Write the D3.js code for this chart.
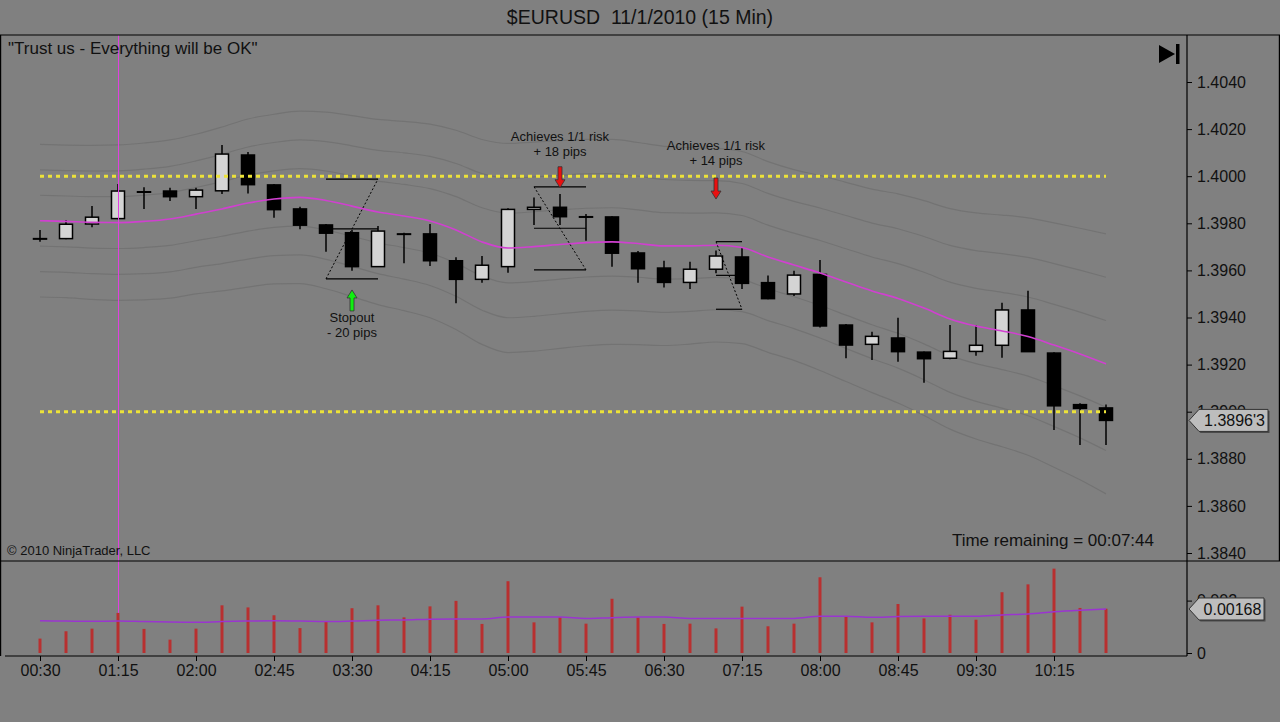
<!DOCTYPE html>
<html><head><meta charset="utf-8">
<script src="https://cdn.jsdelivr.net/npm/d3@7"></script>
<style>
html,body{margin:0;padding:0;background:#808080;}
svg{display:block;font-family:"Liberation Sans",Arial,sans-serif;}
text{white-space:pre;}
</style></head><body>
<svg id="c" width="1280" height="722"></svg>
<script>
// ---------- DATA ----------
const times = ["00:30","00:45","01:00","01:15","01:30","01:45","02:00","02:15","02:30","02:45",
  "03:00","03:15","03:30","03:45","04:00","04:15","04:30","04:45","05:00","05:15",
  "05:30","05:45","06:00","06:15","06:30","06:45","07:00","07:15","07:30","07:45",
  "08:00","08:15","08:30","08:45","09:00","09:15","09:30","09:45","10:00","10:15",
  "10:30","10:45"];
const opens  = [1.39735,1.39735,1.39797,1.39820,1.39934,1.39937,1.39913,1.39938,1.40090,1.39963,
  1.39861,1.39793,1.39760,1.39616,1.39755,1.39755,1.39641,1.39562,1.39616,1.39859,
  1.39868,1.39828,1.39827,1.39674,1.39610,1.39549,1.39605,1.39657,1.39548,1.39500,
  1.39583,1.39368,1.39286,1.39313,1.39253,1.39227,1.39256,1.39282,1.39432,1.39249,
  1.39030,1.39016];
const highs  = [1.39772,1.39814,1.39873,1.39967,1.39953,1.39951,1.39951,1.40132,1.40103,1.39967,
  1.39870,1.39797,1.39772,1.39789,1.39760,1.39797,1.39656,1.39661,1.39864,1.39910,
  1.39924,1.39839,1.39830,1.39682,1.39641,1.39637,1.39684,1.39698,1.39578,1.39599,
  1.39644,1.39372,1.39340,1.39399,1.39256,1.39368,1.39368,1.39463,1.39514,1.39252,
  1.39036,1.39031];
const lows   = [1.39722,1.39732,1.39783,1.39817,1.39861,1.39895,1.39861,1.39924,1.39927,1.39824,
  1.39775,1.39679,1.39599,1.39616,1.39630,1.39619,1.39460,1.39548,1.39590,1.39793,
  1.39793,1.39726,1.39616,1.39548,1.39527,1.39521,1.39588,1.39521,1.39478,1.39491,
  1.39358,1.39227,1.39220,1.39212,1.39123,1.39223,1.39238,1.39229,1.39255,1.38922,
  1.38859,1.38859];
const closes = [1.39735,1.39796,1.39826,1.39937,1.39934,1.39913,1.39941,1.40094,1.39964,1.39858,
  1.39792,1.39758,1.39616,1.39767,1.39755,1.39641,1.39562,1.39622,1.39859,1.39868,
  1.39828,1.39828,1.39673,1.39607,1.39549,1.39605,1.39661,1.39545,1.39480,1.39580,
  1.39364,1.39283,1.39320,1.39255,1.39225,1.39256,1.39282,1.39432,1.39255,1.39025,
  1.39014,1.38963];
const priceMA = [1.39811,1.39808,1.39804,1.39803,1.39808,1.39818,1.39839,1.39861,1.39886,1.39903,
  1.39910,1.39897,1.39873,1.39848,1.39831,1.39810,1.39772,1.39721,1.39695,1.39701,
  1.39710,1.39718,1.39721,1.39714,1.39704,1.39704,1.39707,1.39697,1.39657,1.39623,
  1.39589,1.39551,1.39513,1.39481,1.39440,1.39394,1.39364,1.39343,1.39319,1.39283,
  1.39245,1.39203];
const bandWidth = [0.00108,0.00108,0.00109,0.00110,0.00111,0.00112,0.00113,0.00116,0.00119,0.00120,
  0.00122,0.00125,0.00128,0.00131,0.00134,0.00137,0.00141,0.00145,0.00148,0.00148,
  0.00147,0.00146,0.00145,0.00143,0.00141,0.00139,0.00137,0.00136,0.00135,0.00135,
  0.00138,0.00141,0.00144,0.00148,0.00152,0.00156,0.00160,0.00164,0.00168,0.00173,
  0.00178,0.00184];
const barRange = [0.00055,0.00083,0.00093,0.00153,0.00092,0.00051,0.00093,0.00182,0.00174,0.00144,
  0.00095,0.00121,0.00171,0.00182,0.00136,0.00178,0.00199,0.00111,0.00274,0.00117,
  0.00137,0.00112,0.00207,0.00136,0.00111,0.00112,0.00094,0.00177,0.00102,0.00112,
  0.00289,0.00140,0.00117,0.00187,0.00132,0.00146,0.00127,0.00232,0.00262,0.00322,
  0.00172,0.00169];
const rangeMA = [0.00123,0.00122,0.00121,0.00122,0.00120,0.00118,0.00117,0.00120,0.00122,0.00123,
  0.00122,0.00120,0.00122,0.00125,0.00126,0.00129,0.00130,0.00130,0.00137,0.00137,
  0.00137,0.00132,0.00135,0.00137,0.00137,0.00132,0.00132,0.00132,0.00132,0.00132,
  0.00140,0.00140,0.00136,0.00139,0.00140,0.00140,0.00140,0.00145,0.00149,0.00157,
  0.00163,0.00168];
const priceTicks = [1.3840,1.3860,1.3880,1.3900,1.3920,1.3940,1.3960,1.3980,1.4000,1.4020,1.4040];
const timeTickLabels = ["00:30","01:15","02:00","02:45","03:30","04:15","05:00","05:45",
  "06:30","07:15","08:00","08:45","09:30","10:15"];
const rangeTicks = [0, 0.002];
const levels = [1.4000, 1.3900];
const markerTime = "01:15";
// risk/reward drawings: start, end, top, middle, bottom, diagonal from -> to
const trades = [
  {start:"03:15", end:"03:45", top:1.39988, mid:1.39776, bot:1.39564, diag:["bot","top"]},
  {start:"05:15", end:"05:45", top:1.39955, mid:1.39779, bot:1.39602, diag:["top","bot"]},
  {start:"07:00", end:"07:15", top:1.39722, mid:1.39579, bot:1.39435, diag:["top","bot"]}
];
const arrows = [
  {time:"05:30", tip:1.39951, dir:"down", color:"#e81010"},
  {time:"07:00", tip:1.39903, dir:"down", color:"#e81010"},
  {time:"03:30", tip:1.39517, dir:"up",   color:"#10f010"}
];
const notes = [
  {time:"05:30", price:1.40171, lines:["Achieves 1/1 risk","+ 18 pips"]},
  {time:"07:00", price:1.40132, lines:["Achieves 1/1 risk","+ 14 pips"]},
  {time:"03:30", price:1.39402, lines:["Stopout","- 20 pips"]}
];
const titleText = "$EURUSD  11/1/2010 (15 Min)";
const subtitleText = "\"Trust us - Everything will be OK\"";
const copyrightText = "\u00a9 2010 NinjaTrader, LLC";
const timeRemainingText = "Time remaining = 00:07:44";

// ---------- LAYOUT ----------
const W = 1280, H = 722;
const axisX = 1187, priceTop = 35, priceBottom = 561, volBottom = 656;
const svg = d3.select("#c");
svg.append("rect").attr("width",W).attr("height",H).attr("fill","#808080");

const x = d3.scalePoint().domain(times).range([40,1106]);
const y = d3.scaleLinear().domain([1.3840,1.4040]).range([553,82]);
const yv = d3.scaleLinear().domain([0,0.002]).range([653,600.6]);

const defs = svg.append("defs");
defs.append("clipPath").attr("id","pclip").append("rect")
  .attr("x",1).attr("y",priceTop+1).attr("width",axisX-1).attr("height",priceBottom-priceTop-1);

const idx = d3.range(times.length);
const P = svg.append("g").attr("clip-path","url(#pclip)");

// bands
[-3,-2,-1,1,2,3].forEach(k=>{
  P.append("path")
    .attr("d", d3.line().curve(d3.curveMonotoneX)
      .x(i=>x(times[i])).y(i=>y(priceMA[i]+k*bandWidth[i]))(idx))
    .attr("fill","none").attr("stroke","#737373").attr("stroke-width",1.2);
});

// candles
const cg = P.append("g");
idx.forEach(i=>{
  const cx = x(times[i]);
  cg.append("line").attr("x1",cx).attr("x2",cx).attr("y1",y(highs[i])).attr("y2",y(lows[i]))
    .attr("stroke","#000").attr("stroke-width",1.5);
  const up = closes[i] > opens[i];
  const yt = y(Math.max(opens[i],closes[i])), yb = y(Math.min(opens[i],closes[i]));
  cg.append("rect").attr("x",cx-6.5).attr("y",yt).attr("width",13).attr("height",Math.max(yb-yt,0.5))
    .attr("fill", up ? "#d4d4d4" : "#000").attr("stroke","#000").attr("stroke-width",1.5);
});

// moving average
P.append("path")
  .attr("d", d3.line().curve(d3.curveMonotoneX).x(i=>x(times[i])).y(i=>y(priceMA[i]))(idx))
  .attr("fill","none").attr("stroke","#d040d0").attr("stroke-width",1.6);

// levels
levels.forEach(l=>{
  P.append("line").attr("x1",x(times[0])).attr("x2",x(times[times.length-1]))
    .attr("y1",y(l)).attr("y2",y(l))
    .attr("stroke","#ece23a").attr("stroke-width",3).attr("stroke-dasharray","4,4");
});

// trades
trades.forEach(t=>{
  const x0 = x(t.start), x1 = x(t.end);
  ["top","mid","bot"].forEach(k=>{
    P.append("line").attr("x1",x0).attr("x2",x1).attr("y1",y(t[k])).attr("y2",y(t[k]))
      .attr("stroke","#000").attr("stroke-width",1.2);
  });
  P.append("line").attr("x1",x0).attr("y1",y(t[t.diag[0]])).attr("x2",x1).attr("y2",y(t[t.diag[1]]))
    .attr("stroke","#000").attr("stroke-width",1).attr("stroke-dasharray","2,2");
});

// arrows
arrows.forEach(a=>{
  const cx = x(a.time), ty = y(a.tip), s = a.dir==="down" ? -1 : 1;
  // tip at ty, tail at ty + s*21
  const pts = [[cx,ty],[cx-5,ty+s*8],[cx-2,ty+s*8],[cx-2,ty+s*21],[cx+2,ty+s*21],[cx+2,ty+s*8],[cx+5,ty+s*8]];
  P.append("polygon").attr("points",pts.map(p=>p.join(",")).join(" "))
    .attr("fill",a.color).attr("stroke","#333").attr("stroke-width",0.8);
});

// notes
notes.forEach(n=>{
  const t = P.append("text").attr("x",x(n.time)).attr("text-anchor","middle")
    .attr("font-size",13).attr("fill","#111");
  n.lines.forEach((ln,j)=>{
    t.append("tspan").attr("x",x(n.time)).attr("y",y(n.price)+4.7+j*15.5).text(ln);
  });
});

// vertical marker line
svg.append("line").attr("x1",x(markerTime)+0.5).attr("x2",x(markerTime)+0.5)
  .attr("y1",priceTop).attr("y2",653).attr("stroke","#e040e0").attr("stroke-width",1);

// volume/range panel
const V = svg.append("g");
idx.forEach(i=>{
  V.append("line").attr("x1",x(times[i])).attr("x2",x(times[i]))
    .attr("y1",yv(0)).attr("y2",yv(barRange[i]))
    .attr("stroke","#b83030").attr("stroke-width",3);
});
V.append("path")
  .attr("d", d3.line().curve(d3.curveMonotoneX).x(i=>x(times[i])).y(i=>yv(rangeMA[i]))(idx))
  .attr("fill","none").attr("stroke","#9a34d0").attr("stroke-width",1.5);

// frame lines
const F = svg.append("g").attr("stroke","#000").attr("stroke-width",1.2);
F.append("line").attr("x1",0).attr("x2",W).attr("y1",priceTop).attr("y2",priceTop);
F.append("line").attr("x1",0).attr("x2",W).attr("y1",priceBottom).attr("y2",priceBottom);
F.append("line").attr("x1",0.6).attr("x2",0.6).attr("y1",priceTop).attr("y2",volBottom);
F.append("line").attr("x1",W-0.6).attr("x2",W-0.6).attr("y1",priceTop).attr("y2",priceBottom);
F.append("line").attr("x1",5).attr("x2",axisX).attr("y1",volBottom).attr("y2",volBottom);
F.append("line").attr("x1",axisX).attr("x2",axisX).attr("y1",priceTop).attr("y2",volBottom);

// axes
function styleAxis(g){
  g.select(".domain").remove();
  g.attr("font-size",16).attr("font-family","'Liberation Sans',Arial,sans-serif").attr("color","#000");
  g.selectAll("text").attr("fill","#111");
}
svg.append("g").attr("transform",`translate(${axisX},0)`)
  .call(d3.axisRight(y).tickValues(priceTicks).tickSize(5).tickPadding(5).tickFormat(d3.format(".4f")))
  .call(styleAxis);
svg.append("g").attr("transform",`translate(${axisX},0)`)
  .call(d3.axisRight(yv).tickValues(rangeTicks).tickSize(5).tickPadding(5).tickFormat(d=>d===0?"0":d3.format(".3f")(d)))
  .call(styleAxis);
svg.append("g").attr("transform",`translate(0,${volBottom})`)
  .call(d3.axisBottom(x).tickValues(timeTickLabels).tickSize(5).tickPadding(4))
  .call(styleAxis);

// tags
function tag(yc, label, right){
  const pts = [[axisX+2,yc],[axisX+12,yc-11],[right,yc-11],[right,yc+11],[axisX+12,yc+11]];
  svg.append("polygon").attr("points",pts.map(p=>[p[0]+1.5,p[1]+1.5].join(",")).join(" "))
    .attr("fill","#4a4a4a");
  svg.append("polygon").attr("points",pts.map(p=>p.join(",")).join(" "))
    .attr("fill","#bdbdbd").attr("stroke","#333").attr("stroke-width",1);
  svg.append("text").attr("x",(axisX+12+right)/2+1).attr("y",yc+6).attr("text-anchor","middle")
    .attr("font-size",16).attr("fill","#111").text(label);
}
const lastClose = closes[closes.length-1].toFixed(5);
tag(y(closes[closes.length-1]), lastClose.slice(0,6)+"'"+lastClose.slice(6), 1268);
tag(yv(rangeMA[rangeMA.length-1]), rangeMA[rangeMA.length-1].toFixed(5), 1264);

// texts
svg.append("text").attr("x",640).attr("y",24).attr("text-anchor","middle")
  .attr("font-size",19.5).attr("fill","#111").text(titleText);
svg.append("text").attr("x",8).attr("y",54).attr("font-size",17).attr("fill","#111").text(subtitleText);
svg.append("text").attr("x",7).attr("y",555).attr("font-size",13).attr("fill","#111").text(copyrightText);
svg.append("text").attr("x",1154).attr("y",546).attr("text-anchor","end")
  .attr("font-size",17).attr("fill","#111").text(timeRemainingText);

// go-to-end icon
svg.append("polygon").attr("points","1159,45 1159,63 1175,54").attr("fill","#000");
svg.append("rect").attr("x",1176).attr("y",44).attr("width",3.5).attr("height",20).attr("fill","#000");
</script>
</body></html>
